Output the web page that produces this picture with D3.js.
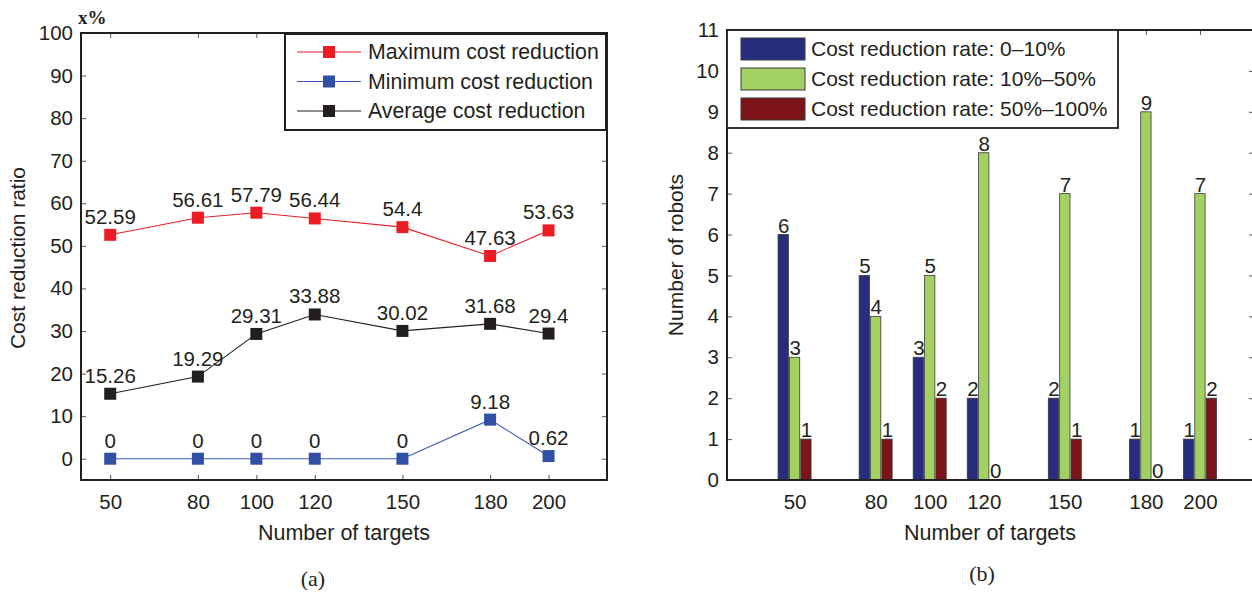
<!DOCTYPE html>
<html>
<head>
<meta charset="utf-8">
<script src="https://cdn.jsdelivr.net/npm/d3@7"></script>
<style>
  body { margin: 0; background: #fff; }
  svg { display: block; font-family: "Liberation Sans", Arial, sans-serif; }
</style>
</head>
<body>
<div id="chart"></div>
<script>
// ---- data (a) ----
const targets = [50, 80, 100, 120, 150, 180, 200];
const maxReduction = [52.59, 56.61, 57.79, 56.44, 54.4, 47.63, 53.63];
const minReduction = [0, 0, 0, 0, 0, 9.18, 0.62];
const avgReduction = [15.26, 19.29, 29.31, 33.88, 30.02, 31.68, 29.4];
const ratioTicks = [0, 10, 20, 30, 40, 50, 60, 70, 80, 90, 100];
const lineSeries = ['Maximum cost reduction', 'Minimum cost reduction', 'Average cost reduction'];

// ---- data (b) ----
const rateGroups = ['Cost reduction rate: 0\u201310%', 'Cost reduction rate: 10%\u201350%', 'Cost reduction rate: 50%\u2013100%'];
const robotsLow = [6, 5, 3, 2, 2, 1, 1];
const robotsMid = [3, 4, 5, 8, 7, 9, 7];
const robotsHigh = [1, 1, 2, 0, 1, 0, 2];
const robotTicks = [0, 1, 2, 3, 4, 5, 6, 7, 8, 9, 10, 11];

const W = 1252, H = 597;
const ink = '#231f20';

const svg = d3.select('#chart').append('svg')
  .attr('width', W).attr('height', H);

// =========== (a) line chart ===========
const xa = d3.scaleLinear().domain([40, 220]).range([81, 607]);
const ya = d3.scaleLinear().domain([-5, 100]).range([480, 33]);
const gA = svg.append('g');

// ticks inside the box on all sides
gA.append('g').attr('transform', `translate(0,${ya(-5)})`)
  .call(d3.axisBottom(xa).tickValues(targets).tickSize(-5).tickPadding(14).tickFormat(d3.format('d')));
gA.append('g').attr('transform', `translate(0,${ya(100)})`)
  .call(d3.axisTop(xa).tickValues(targets).tickSize(-5).tickFormat(''));
gA.append('g').attr('transform', `translate(${xa(40)},0)`)
  .call(d3.axisLeft(ya).tickValues(ratioTicks).tickSize(-5).tickPadding(8));
gA.append('g').attr('transform', `translate(${xa(220)},0)`)
  .call(d3.axisRight(ya).tickValues(ratioTicks).tickSize(-5).tickFormat(''));
gA.selectAll('.domain').remove();
gA.selectAll('.tick line').attr('stroke', '#555');
gA.selectAll('.tick text').attr('fill', ink).style('font-size', '20.5px').attr('font-family', null);

gA.append('rect')
  .attr('x', xa(40)).attr('y', ya(100))
  .attr('width', xa(220) - xa(40)).attr('height', ya(-5) - ya(100))
  .attr('fill', 'none').attr('stroke', ink).attr('stroke-width', 2);

const lineDefs = [
  { name: lineSeries[0], values: maxReduction, line: '#e8202a', mark: '#ec1c24' },
  { name: lineSeries[1], values: minReduction, line: '#3b5bb5', mark: '#3250a3' },
  { name: lineSeries[2], values: avgReduction, line: '#231f20', mark: '#231f20' }
];
const lineGen = d3.line().x(d => xa(d[0])).y(d => ya(d[1]));

lineDefs.forEach(s => {
  const pts = targets.map((t, i) => [t, s.values[i]]);
  gA.append('path').datum(pts)
    .attr('fill', 'none').attr('stroke', s.line).attr('stroke-width', 1.1)
    .attr('d', lineGen);
  gA.selectAll(null).data(pts).enter().append('rect')
    .attr('x', d => xa(d[0]) - 6).attr('y', d => ya(d[1]) - 6)
    .attr('width', 12).attr('height', 12)
    .attr('fill', s.mark);
  gA.selectAll(null).data(pts).enter().append('text')
    .attr('x', d => xa(d[0])).attr('y', d => ya(d[1]) - 11)
    .attr('text-anchor', 'middle')
    .style('font-size', '20.5px').attr('fill', ink)
    .text(d => d[1]);
});

// legend (a)
const legA = gA.append('g');
legA.append('rect').attr('x', 285).attr('y', 34).attr('width', 321).attr('height', 96)
  .attr('fill', '#fff').attr('stroke', ink).attr('stroke-width', 2);
lineDefs.forEach((s, i) => {
  const cy = 52 + i * 29.5;
  legA.append('line').attr('x1', 297).attr('x2', 361).attr('y1', cy).attr('y2', cy)
    .attr('stroke', s.line).attr('stroke-width', 1.1);
  legA.append('rect').attr('x', 323).attr('y', cy - 6).attr('width', 12).attr('height', 12)
    .attr('fill', s.mark);
  legA.append('text').attr('x', 368).attr('y', cy + 7)
    .style('font-size', '21.3px').attr('fill', ink).text(s.name);
});

gA.append('text').attr('x', 78).attr('y', 24)
  .attr('font-family', '"Liberation Serif", "DejaVu Serif", serif')
  .style('font-size', '19px').style('font-weight', 700).attr('fill', ink).text('x%');
gA.append('text').attr('transform', 'translate(25,258) rotate(-90)')
  .attr('text-anchor', 'middle').style('font-size', '21px').attr('fill', ink)
  .text('Cost reduction ratio');
gA.append('text').attr('x', 344).attr('y', 540)
  .attr('text-anchor', 'middle').style('font-size', '21.5px').attr('fill', ink)
  .text('Number of targets');
gA.append('text').attr('x', 313).attr('y', 586)
  .attr('text-anchor', 'middle')
  .attr('font-family', '"Liberation Serif", "DejaVu Serif", serif')
  .style('font-size', '22px').attr('fill', ink).text('(a)');

// =========== (b) bar chart ===========
const xb = d3.scaleLinear().domain([25, 220]).range([727, 1254]);
const yb = d3.scaleLinear().domain([0, 11]).range([480, 30]);
const inner = d3.scaleBand().domain([0, 1, 2]).range([-16.5, 16.5]).paddingInner(0.09);
const barColors = ['#272d7c', '#a2d062', '#7d1419'];
const barSeries = [robotsLow, robotsMid, robotsHigh];
const gB = svg.append('g');

gB.append('g').attr('transform', `translate(0,${yb(0)})`)
  .call(d3.axisBottom(xb).tickValues(targets).tickSize(-5).tickPadding(14).tickFormat(d3.format('d')));
gB.append('g').attr('transform', `translate(0,${yb(11)})`)
  .call(d3.axisTop(xb).tickValues(targets).tickSize(-5).tickFormat(''));
gB.append('g').attr('transform', `translate(${xb(25)},0)`)
  .call(d3.axisLeft(yb).tickValues(robotTicks).tickSize(-5).tickPadding(8));
gB.append('g').attr('transform', `translate(${xb(220)},0)`)
  .call(d3.axisRight(yb).tickValues(robotTicks).tickSize(-5).tickFormat(''));
gB.selectAll('.domain').remove();
gB.selectAll('.tick line').attr('stroke', '#555');
gB.selectAll('.tick text').attr('fill', ink).style('font-size', '20.5px').attr('font-family', null);

gB.append('rect')
  .attr('x', xb(25)).attr('y', yb(11))
  .attr('width', xb(220) - xb(25)).attr('height', yb(0) - yb(11))
  .attr('fill', 'none').attr('stroke', ink).attr('stroke-width', 2);

barSeries.forEach((vals, k) => {
  const pts = targets.map((t, i) => ({ t, v: vals[i] }));
  gB.selectAll(null).data(pts.filter(d => d.v > 0)).enter().append('rect')
    .attr('x', d => xb(d.t) + inner(k)).attr('y', d => yb(d.v))
    .attr('width', inner.bandwidth()).attr('height', d => yb(0) - yb(d.v))
    .attr('fill', barColors[k]).attr('stroke', '#3a3a3a').attr('stroke-width', 0.8);
  gB.selectAll(null).data(pts).enter().append('text')
    .attr('x', d => xb(d.t) + inner(k)).attr('y', d => yb(d.v) - 2)
    .style('font-size', '20.5px').attr('fill', ink)
    .text(d => d.v);
});

// redraw bottom line over bars
gB.append('line').attr('x1', xb(25)).attr('x2', xb(220)).attr('y1', yb(0)).attr('y2', yb(0))
  .attr('stroke', ink).attr('stroke-width', 2.2);

// legend (b)
const legB = gB.append('g');
legB.append('rect').attr('x', 727).attr('y', 30).attr('width', 391).attr('height', 98)
  .attr('fill', '#fff').attr('stroke', ink).attr('stroke-width', 1.8);
rateGroups.forEach((name, i) => {
  const top = 38 + i * 30;
  legB.append('rect').attr('x', 741).attr('y', top).attr('width', 64).attr('height', 22)
    .attr('fill', barColors[i]).attr('stroke', '#3a3a3a').attr('stroke-width', 1);
  legB.append('text').attr('x', 811).attr('y', top + 18)
    .style('font-size', '21px').attr('fill', ink).text(name);
});

gB.append('text').attr('transform', 'translate(683,255) rotate(-90)')
  .attr('text-anchor', 'middle').style('font-size', '21px').attr('fill', ink)
  .text('Number of robots');
gB.append('text').attr('x', 990).attr('y', 540)
  .attr('text-anchor', 'middle').style('font-size', '21.5px').attr('fill', ink)
  .text('Number of targets');
gB.append('text').attr('x', 982).attr('y', 581)
  .attr('text-anchor', 'middle')
  .attr('font-family', '"Liberation Serif", "DejaVu Serif", serif')
  .style('font-size', '22px').attr('fill', ink).text('(b)');
</script>
</body>
</html>
